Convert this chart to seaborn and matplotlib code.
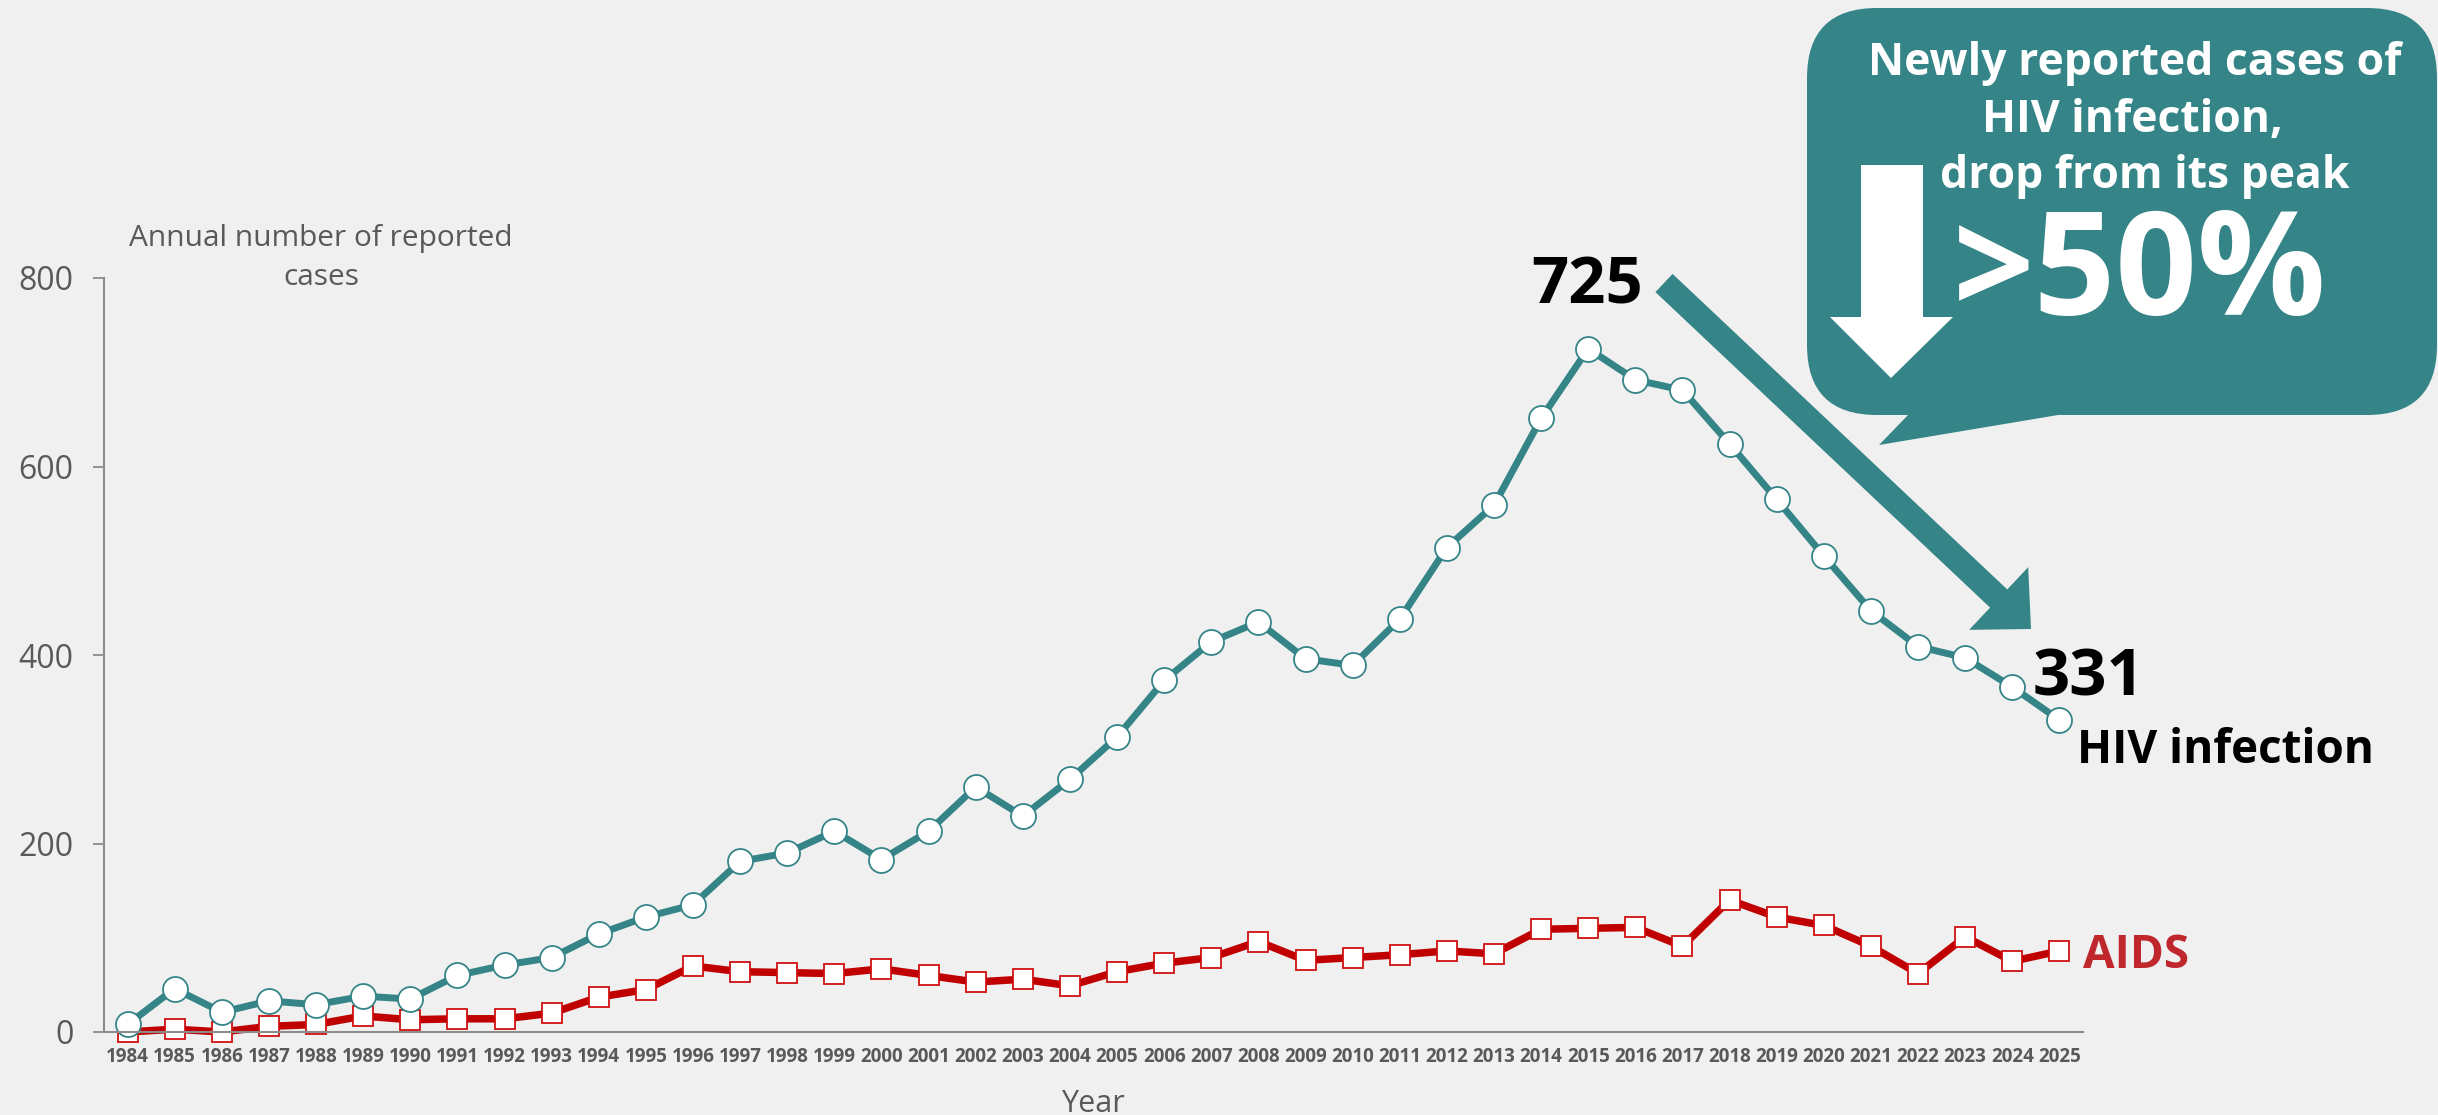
import matplotlib
matplotlib.use("Agg")
import matplotlib.pyplot as plt
import matplotlib.transforms as mtransforms
from matplotlib.patches import FancyArrowPatch, FancyBboxPatch, Polygon
import seaborn as sns
import pandas as pd
import numpy as np

# data
years = list(range(1984, 2026))
hiv_cases = [8, 46, 21, 33, 29, 38, 35, 60, 71, 79,
             104, 122, 135, 181, 190, 213, 183, 213, 260, 229,
             268, 313, 373, 414, 435, 396, 389, 438, 514, 559,
             651, 725, 692, 681, 624, 565, 505, 447, 409, 397,
             366, 331]
aids_cases = [0, 3, 0, 6, 8, 17, 13, 14, 14, 20,
              37, 45, 70, 64, 63, 62, 67, 60, 53, 56,
              49, 64, 73, 79, 96, 76, 79, 82, 86, 83,
              109, 110, 111, 91, 140, 122, 113, 91, 62, 101,
              75, 86]
y_ticks = [0, 200, 400, 600, 800]

TEAL = "#358487"
RED = "#C00000"
RED_TEXT = "#C0272D"
GRAY = "#595959"
AXIS_GRAY = "#8C8C8C"
BG = "#F0F0F0"

df = pd.DataFrame({"year": years, "hiv": hiv_cases, "aids": aids_cases})

sns.set_theme(style="white")
plt.rcParams["font.family"] = ["Open Sans", "DejaVu Sans"]

W, H = 2438, 1115
fig = plt.figure(figsize=(W / 100, H / 100), dpi=100, facecolor=BG)
# axes box in pixels: left 104, right 2083, top 278, bottom 1032
ax = fig.add_axes([104 / W, (H - 1032) / H, (2083 - 104) / W, (1032 - 278) / H])
ax.set_facecolor(BG)

# pixel transform, origin top-left
px = mtransforms.Affine2D().scale(1 / W, -1 / H).translate(0, 1) + fig.transFigure

sns.lineplot(data=df, x="year", y="aids", ax=ax, color=RED, linewidth=5.4,
             marker="s", markersize=14, markerfacecolor="white",
             markeredgecolor="#D01010", markeredgewidth=1.3)
sns.lineplot(data=df, x="year", y="hiv", ax=ax, color=TEAL, linewidth=5,
             marker="o", markersize=18, markerfacecolor="white",
             markeredgecolor=TEAL, markeredgewidth=1.3)
for ln in ax.lines:
    ln.set_clip_on(False)

ax.set_xlim(1983.5, 2025.5)
ax.set_ylim(0, 800)
ax.set_yticks(y_ticks)
ax.set_xticks(years)
ax.set_xticklabels([str(y) for y in years])
for lbl in ax.get_xticklabels():
    lbl.set_fontweight("bold")
ax.set_xticks(np.arange(1983.5, 2026, 1), minor=True)
ax.tick_params(axis="x", which="major", length=0, pad=11, labelsize=13.5, labelcolor=GRAY)
ax.tick_params(axis="x", which="minor", length=4.5, width=1.3, color=AXIS_GRAY, direction="out")
ax.tick_params(axis="y", which="major", left=True, length=8, width=1.3, color=AXIS_GRAY,
               direction="out", pad=14, labelsize=23, labelcolor=GRAY)
ax.set_xlabel("")
ax.set_ylabel("")
sns.despine(ax=ax)
for side in ["left", "bottom"]:
    ax.spines[side].set_color(AXIS_GRAY)
    ax.spines[side].set_linewidth(1.5)

# axis titles
fig.text(1093, 1112, "Year", transform=px, ha="center", va="baseline", fontsize=22, color=GRAY)
fig.text(321, 258, "Annual number of reported\ncases", transform=px, ha="center", va="center",
         fontsize=21.5, color=GRAY, linespacing=1.45)

# value annotations
ax.annotate("725", (2015, 725), xytext=(-1, 45), textcoords="offset pixels",
            ha="center", va="baseline", fontsize=47, fontweight="bold", color="black")
ax.annotate("331", (2025, 331), xytext=(29, 25), textcoords="offset pixels",
            ha="center", va="baseline", fontsize=47, fontweight="bold", color="black",
            annotation_clip=False)
ax.annotate("HIV infection", (2025, 331), xytext=(18, -43), textcoords="offset pixels",
            ha="left", va="baseline", fontsize=33, fontweight="bold", color="black",
            annotation_clip=False)
ax.annotate("AIDS", (2025, 86), xytext=(24, -17), textcoords="offset pixels",
            ha="left", va="baseline", fontsize=33, fontweight="bold", color=RED_TEXT,
            annotation_clip=False)

# big diagonal arrow
arrow = FancyArrowPatch((1664, 283), (2031, 629), transform=px,
                        arrowstyle="simple,head_length=32,head_width=62,tail_width=18",
                        mutation_scale=1, shrinkA=0, shrinkB=0, color=TEAL, lw=0)
fig.patches.append(arrow)

# speech bubble
bubble = FancyBboxPatch((1807, 8), 630, 407, transform=px,
                        boxstyle="round,pad=0,rounding_size=70", facecolor=TEAL, edgecolor="none")
fig.patches.append(bubble)
pointer = Polygon([(1910, 413), (2070, 413), (1879, 445)], closed=True, transform=px,
                  facecolor=TEAL, edgecolor="none")
fig.patches.append(pointer)
down = Polygon([(1861, 165), (1923, 165), (1923, 317), (1953, 317), (1891, 378),
                (1830, 317), (1861, 317)], closed=True, transform=px,
               facecolor="white", edgecolor="none")
fig.patches.append(down)

fig.text(2135, 75, "Newly reported cases of", transform=px, ha="center", va="baseline",
         fontsize=32, fontweight="bold", color="white")
fig.text(2132, 132, "HIV infection,", transform=px, ha="center", va="baseline",
         fontsize=32, fontweight="bold", color="white")
fig.text(2145, 188, "drop from its peak", transform=px, ha="center", va="baseline",
         fontsize=32, fontweight="bold", color="white")
fig.text(2140, 315, ">50%", transform=px, ha="center", va="baseline",
         fontsize=103, fontweight="bold", color="white")

fig.savefig("out.png", dpi=100, facecolor=BG)
